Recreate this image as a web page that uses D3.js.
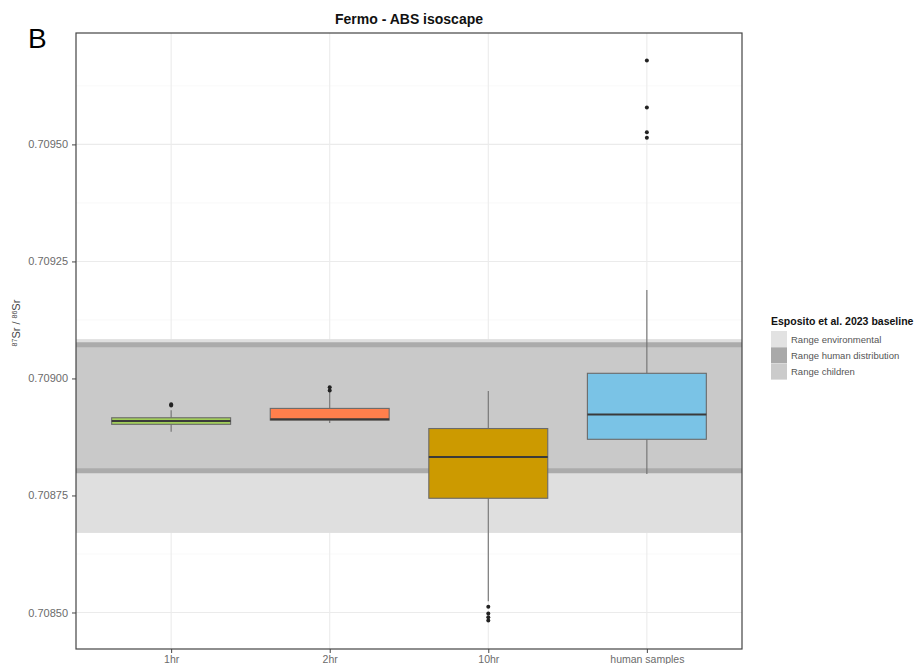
<!DOCTYPE html>
<html><head><meta charset="utf-8">
<script src="https://cdn.jsdelivr.net/npm/d3@7"></script>
<style>body{margin:0;background:#fff;} text{font-family:"Liberation Sans",Arial,sans-serif;}</style>
</head><body><svg id="c" width="917" height="664"></svg>
<script>
const categories = ["1hr","2hr","10hr","human samples"];
const boxColors = ["#a3cf5b","#ff7f4c","#cc9a00","#7ac3e6"];
const whiskerLow = [0.708886,0.708905,0.708524,0.708796];
const q1 = [0.708902,0.708911,0.708744,0.708870];
const median = [0.708909,0.708913,0.708832,0.708923];
const q3 = [0.708916,0.708936,0.708893,0.709011];
const whiskerHigh = [0.708932,0.708971,0.708973,0.709189];
const outliers = [
  [0.708945,0.708942],
  [0.708981,0.708974],
  [0.708512,0.708498,0.708490,0.708483],
  [0.709679,0.709579,0.709526,0.709514]
];
const yTicks = [0.7085,0.70875,0.709,0.70925,0.7095];
const yMinor = [0.708625,0.708875,0.709125,0.709375,0.709625];
const legendLabels = ["Range environmental","Range human distribution","Range children"];
const legendColors = ["#e2e2e2","#a9a9a9","#cbcbcb"];
const envRange = [0.70867,0.709084];
const humanRange = [0.708803,0.709072];
const childRange = [0.708803,0.709072];

const svg = d3.select("#c");
const L=76,R=742,T=33,B=649;
const y = d3.scaleLinear().domain([0.708422,0.709738]).range([B,T]);
const unit = (R-L)/4.2;
const xp = d3.scalePoint().domain(categories).range([L+unit*0.6, R-unit*0.6]);
const bw = unit*0.75;

// grid
svg.append("g").selectAll("line").data(yMinor).join("line")
  .attr("x1",L).attr("x2",R).attr("y1",d=>y(d)).attr("y2",d=>y(d))
  .attr("stroke","#f3f3f3").attr("stroke-width",0.6);
svg.append("g").selectAll("line").data(yTicks).join("line")
  .attr("x1",L).attr("x2",R).attr("y1",d=>y(d)).attr("y2",d=>y(d))
  .attr("stroke","#ebebeb").attr("stroke-width",1.1);
svg.append("g").selectAll("line").data(categories).join("line")
  .attr("x1",d=>xp(d)).attr("x2",d=>xp(d)).attr("y1",T).attr("y2",B)
  .attr("stroke","#ebebeb").attr("stroke-width",1.1);

// bands
svg.append("rect").attr("x",L).attr("width",R-L)
  .attr("y",y(envRange[1])).attr("height",y(envRange[0])-y(envRange[1]))
  .attr("fill","#dfdfdf");
svg.append("rect").attr("x",L).attr("width",R-L)
  .attr("y",y(childRange[1])).attr("height",y(childRange[0])-y(childRange[1]))
  .attr("fill","#c9c9c9");
svg.append("g").selectAll("line").data(humanRange).join("line")
  .attr("x1",L).attr("x2",R).attr("y1",d=>y(d)).attr("y2",d=>y(d))
  .attr("stroke","#ababab").attr("stroke-width",5);

// boxes
const g = svg.append("g");
categories.forEach((c,i)=>{
  const cx = xp(c);
  g.append("line").attr("x1",cx).attr("x2",cx).attr("y1",y(whiskerHigh[i])).attr("y2",y(q3[i]))
    .attr("stroke","#707070").attr("stroke-width",1.1);
  g.append("line").attr("x1",cx).attr("x2",cx).attr("y1",y(q1[i])).attr("y2",y(whiskerLow[i]))
    .attr("stroke","#707070").attr("stroke-width",1.1);
  g.append("rect").attr("x",cx-bw/2).attr("width",bw).attr("y",y(q3[i])).attr("height",Math.max(1,y(q1[i])-y(q3[i])))
    .attr("fill",boxColors[i]).attr("stroke","#6a6a6a").attr("stroke-width",1.1);
  g.append("line").attr("x1",cx-bw/2).attr("x2",cx+bw/2).attr("y1",y(median[i])).attr("y2",y(median[i]))
    .attr("stroke","#3a3a3a").attr("stroke-width",2);
  g.selectAll(null).data(outliers[i]).join("circle")
    .attr("cx",cx).attr("cy",d=>y(d)).attr("r",2).attr("fill","#222");
});

// border
svg.append("rect").attr("x",L).attr("y",T).attr("width",R-L).attr("height",B-T)
  .attr("fill","none").attr("stroke","#444").attr("stroke-width",1.2);

// axes
const ya = svg.append("g").attr("transform",`translate(${L},0)`)
  .call(d3.axisLeft(y).tickValues(yTicks).tickFormat(d3.format(".5f")).tickSize(4).tickPadding(4));
ya.select(".domain").remove();
ya.selectAll("line").attr("stroke","#444");
ya.selectAll("text").attr("fill","#6b6b6b").attr("font-size",11);
const xa = svg.append("g").attr("transform",`translate(0,${B})`)
  .call(d3.axisBottom(xp).tickSize(4).tickPadding(3));
xa.select(".domain").remove();
xa.selectAll("line").attr("stroke","#444");
xa.selectAll("text").attr("fill","#6b6b6b").attr("font-size",10.5);

// title
svg.append("text").attr("x",(L+R)/2).attr("y",24).attr("text-anchor","middle")
  .attr("font-size",14).attr("font-weight","bold").attr("fill","#111").text("Fermo - ABS isoscape");
svg.append("text").attr("x",28).attr("y",48).attr("font-size",28).attr("fill","#000").text("B");

// y title
const yt = svg.append("text").attr("transform","translate(20,323) rotate(-90)")
  .attr("text-anchor","middle").attr("font-size",11).attr("fill","#444");
yt.append("tspan").attr("font-size",7).attr("baseline-shift","super").text("87");
yt.append("tspan").text("Sr / ");
yt.append("tspan").attr("font-size",7).attr("baseline-shift","super").text("86");
yt.append("tspan").text("Sr");

// legend
const lg = svg.append("g").attr("transform","translate(771,0)");
lg.append("text").attr("x",0).attr("y",325).attr("font-size",10.5).attr("font-weight","bold").attr("fill","#111")
  .text("Esposito et al. 2023 baseline");
legendLabels.forEach((t,i)=>{
  lg.append("rect").attr("x",0).attr("y",331+i*16.3).attr("width",16).attr("height",16).attr("fill",legendColors[i]);
  lg.append("text").attr("x",20).attr("y",342.5+i*16.3).attr("font-size",9.5).attr("fill","#555").text(t);
});
</script></body></html>
